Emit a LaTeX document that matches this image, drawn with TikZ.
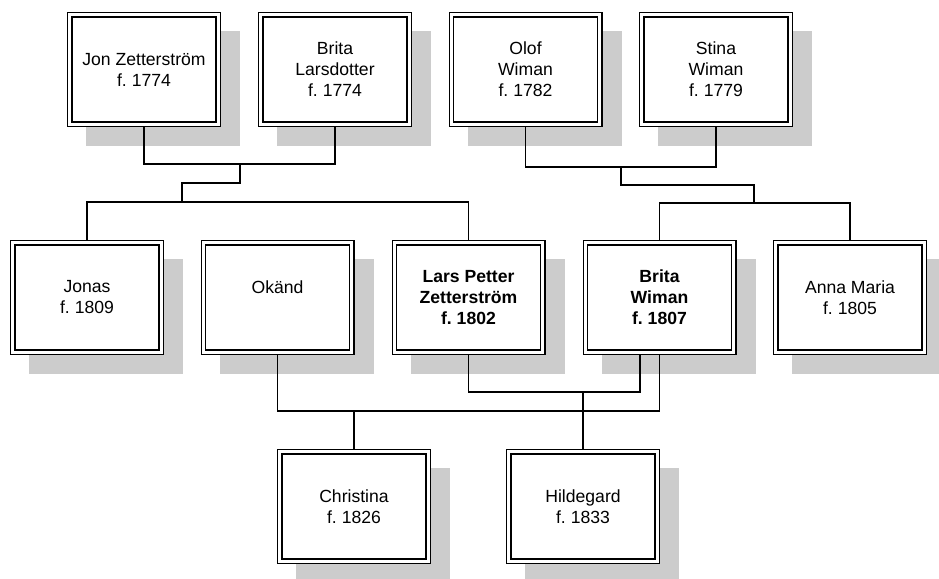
\documentclass[tikz,border=0pt]{standalone}
\usepackage{fontspec}
\setmainfont{Liberation Sans}
\usetikzlibrary{backgrounds}
\definecolor{shadowgray}{HTML}{CCCCCC}
\frenchspacing
\tikzset{
  person/.style={draw, double, double distance=3pt, line width=1.4pt, fill=white,
    minimum width=148.2pt, minimum height=109.2pt, inner sep=0pt, outer sep=2.9pt,
    align=center, font=\fontsize{17.6}{21}\selectfont\frenchspacing},
  link/.style={line width=1.2pt, draw=black},
  shade/.style={fill=shadowgray}
}
\begin{document}
\begin{tikzpicture}[x=1pt, y=-1pt]
\useasboundingbox (0,0) rectangle (939,578);
% top row
\node[person] (jon)    at (144,69.5)   {Jon Zetterström\\f. 1774};
\node[person] (britaL) at (335,69.5)   {Brita\\Larsdotter\\f. 1774};
\node[person] (olof)   at (525.5,69.5) {Olof\\Wiman\\f. 1782};
\node[person] (stina)  at (716,69.5)   {Stina\\Wiman\\f. 1779};
% middle row
\node[person] (jonas)  at (87,297.5)    {Jonas\\f. 1809};
\node[person] (okand)  at (277.5,297.5) {Okänd\\\phantom{f. 1809}};
\node[person] (lars)   at (468.5,297.5) {\bfseries Lars Petter\\\bfseries Zetterström\\\bfseries f. 1802};
\node[person] (britaW) at (659.5,297.5) {\bfseries Brita\\\bfseries Wiman\\\bfseries f. 1807};
\node[person] (anna)   at (850,297.5)   {Anna Maria\\f. 1805};
% bottom row
\node[person] (christina) at (354,506.5) {Christina\\f. 1826};
\node[person] (hildegard) at (583,506.5) {Hildegard\\f. 1833};
% shadows
\begin{scope}[on background layer]
\foreach \n in {jon,britaL,olof,stina,jonas,okand,lars,britaW,anna,christina,hildegard}
  \fill[shade] ([shift={(19pt,-19pt)}]\n.north west) rectangle ([shift={(19pt,-19pt)}]\n.south east);
\end{scope}
% junction points
\coordinate (c1) at (240,164);
\coordinate (c2) at (182,183);
\coordinate (c3) at (182,202);
\coordinate (d1) at (621,167);
\coordinate (d2) at (754,185);
\coordinate (d3) at (754,203);
\coordinate (e1) at (583,392);
\coordinate (f1) at (354,411);
% left family
\draw[link] (jon.south) |- (c1) -| (britaL.south);
\draw[link] (c1) |- (c2) -- (c3);
\draw[link] (jonas.north) |- (c3) -| (lars.north);
% right family
\draw[link] (olof.south) |- (d1) -| (stina.south);
\draw[link] (d1) |- (d2) -- (d3);
\draw[link] (britaW.north) |- (d3) -| (anna.north);
% children
\draw[link] (lars.south) |- (e1) -| ([xshift=-19.5pt]britaW.south);
\draw[link] (e1) -- (hildegard.north);
\draw[link] (okand.south) |- (f1) -| (britaW.south);
\draw[link] (f1) -- (christina.north);
\end{tikzpicture}
\end{document}
